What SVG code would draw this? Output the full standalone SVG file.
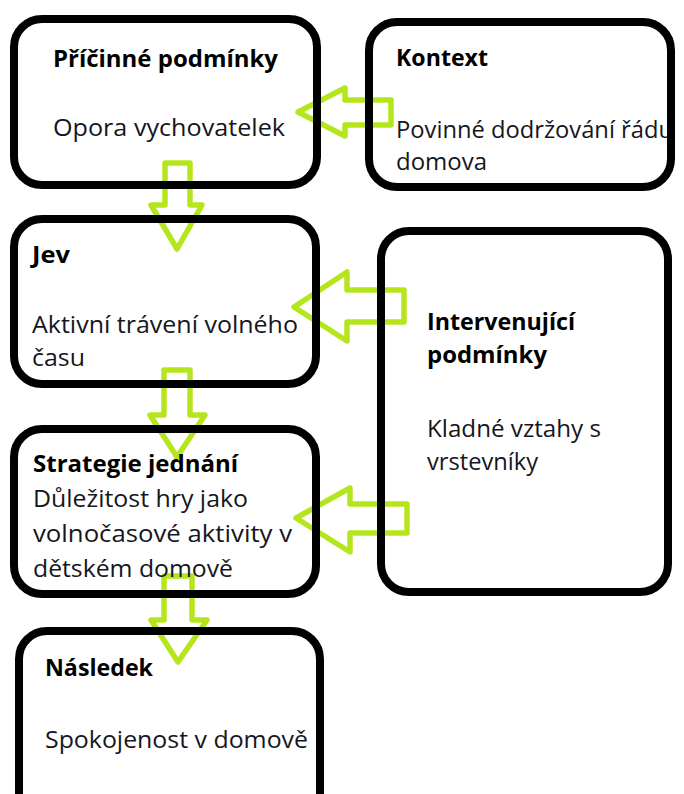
<svg xmlns="http://www.w3.org/2000/svg" width="684" height="794" viewBox="0 0 684 794">
  <style>
    .box { fill: none; stroke: #000; stroke-width: 8; }
    .arrow { fill: none; stroke: #b5e61d; stroke-width: 5.5; stroke-linejoin: round; }
    .t { font-family: "Open Sans", "Liberation Sans", sans-serif; font-size: 24px; fill: #161620; }
    .b { font-weight: bold; fill: #000; }
  </style>
  <rect x="0" y="0" width="684" height="794" fill="#fff"/>
  <g id="connectors">
    <polygon class="arrow" points="298,112 345,88 345,100 391,100 391,125 345,125 345,136"/>
    <polygon class="arrow" points="165,163 190,163 190,205 202,205 177,249 151,205 165,205"/>
    <polygon class="arrow" points="294,307 347,272 347,290 404,290 404,322 347,322 347,341"/>
    <polygon class="arrow" points="296,518 350,488 350,504 407,504 407,533 350,533 350,552"/>
    <polygon class="arrow" points="164,370 190,370 190,415 205,415 177,457 150,415 164,415"/>
    <polygon class="arrow" points="164,576 192,576 192,620 207,620 178,662 151,620 164,620"/>
  </g>
  <g id="pricinne">
    <text class="t b" x="53" y="67" textLength="225" lengthAdjust="spacingAndGlyphs">Příčinné podmínky</text>
    <text class="t" x="53" y="136" textLength="232" lengthAdjust="spacingAndGlyphs">Opora vychovatelek</text>
    <rect class="box" x="14" y="19" width="303" height="166" rx="28"/>
  </g>
  <g id="kontext">
    <text class="t b" x="396" y="66" textLength="92" lengthAdjust="spacingAndGlyphs">Kontext</text>
    <text class="t" x="396" y="138" textLength="277" lengthAdjust="spacingAndGlyphs">Povinné dodržování řádu</text>
    <text class="t" x="396" y="170" textLength="91" lengthAdjust="spacingAndGlyphs">domova</text>
    <rect class="box" x="369" y="22" width="302" height="165" rx="28"/>
  </g>
  <g id="jev">
    <text class="t b" x="32" y="263" textLength="38" lengthAdjust="spacingAndGlyphs">Jev</text>
    <text class="t" x="32" y="333" textLength="266" lengthAdjust="spacingAndGlyphs">Aktivní trávení volného</text>
    <text class="t" x="32" y="366" textLength="53" lengthAdjust="spacingAndGlyphs">času</text>
    <rect class="box" x="14" y="219" width="302" height="165" rx="28"/>
  </g>
  <g id="intervenujici">
    <text class="t b" x="427" y="330" textLength="148" lengthAdjust="spacingAndGlyphs">Intervenující</text>
    <text class="t b" x="427" y="363" textLength="120" lengthAdjust="spacingAndGlyphs">podmínky</text>
    <text class="t" x="427" y="437" textLength="174" lengthAdjust="spacingAndGlyphs">Kladné vztahy s</text>
    <text class="t" x="427" y="470" textLength="111" lengthAdjust="spacingAndGlyphs">vrstevníky</text>
    <rect class="box" x="381" y="231" width="287" height="361" rx="28"/>
  </g>
  <g id="strategie">
    <text class="t b" x="33" y="472" textLength="205" lengthAdjust="spacingAndGlyphs">Strategie jednání</text>
    <text class="t" x="33" y="507" textLength="215" lengthAdjust="spacingAndGlyphs">Důležitost hry jako</text>
    <text class="t" x="33" y="542" textLength="259" lengthAdjust="spacingAndGlyphs">volnočasové aktivity v</text>
    <text class="t" x="33" y="577" textLength="200" lengthAdjust="spacingAndGlyphs">dětském domově</text>
    <rect class="box" x="14" y="429" width="302" height="165" rx="28"/>
  </g>
  <g id="nasledek">
    <text class="t b" x="45" y="676" textLength="108" lengthAdjust="spacingAndGlyphs">Následek</text>
    <text class="t" x="45" y="748" textLength="263" lengthAdjust="spacingAndGlyphs">Spokojenost v domově</text>
    <rect class="box" x="19" y="631" width="301" height="190" rx="28"/>
  </g>
</svg>
